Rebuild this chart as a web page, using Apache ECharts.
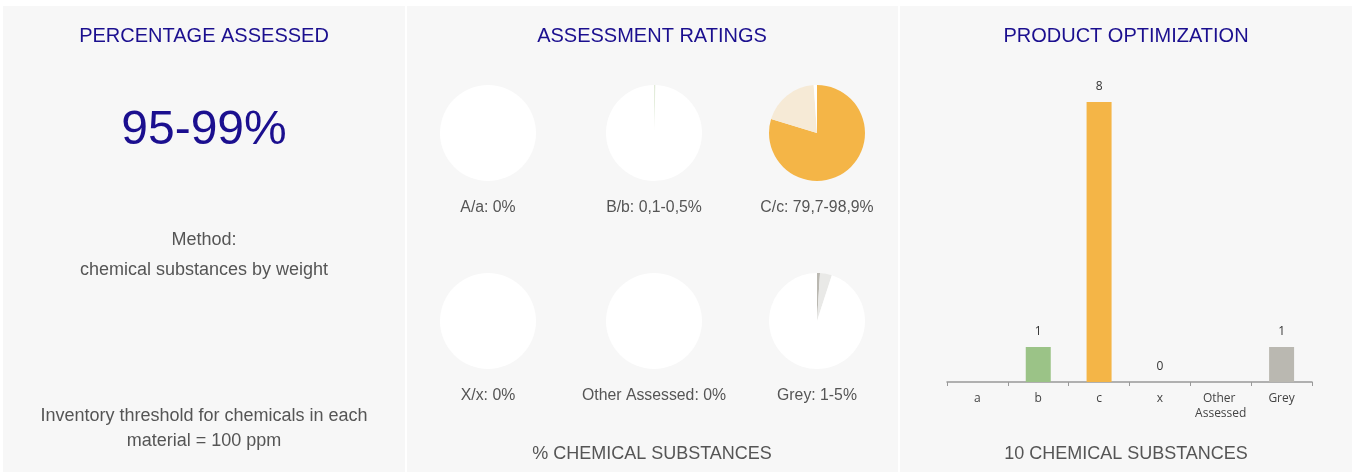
<!DOCTYPE html>
<html>
<head>
<meta charset="utf-8">
<script src="https://cdn.jsdelivr.net/npm/echarts@6/dist/echarts.min.js"></script>
<style>
	html, body { margin:0; padding:0; background:#fff; }
	#chart { width:1352px; height:472px; }
</style>
</head>
<body>
<div id="chart"></div>
<script>
//数据
var pieNames = ['A/a: 0%', 'B/b: 0,1-0,5%', 'C/c: 79,7-98,9%', 'X/x: 0%', 'Other Assessed: 0%', 'Grey: 1-5%'];
var pieValues = [
	[0, 0, 100],
	[0.1, 0.4, 99.5],
	[79.7, 19.2, 1.1],
	[0, 0, 100],
	[0, 0, 100],
	[1, 4, 95]
];
var pieColors = [
	['#f4b547', '#f6ead6', '#ffffff'],
	['#9bc387', '#e4eddb', '#ffffff'],
	['#f4b547', '#f6ead6', '#ffffff'],
	['#f4b547', '#f6ead6', '#ffffff'],
	['#f4b547', '#f6ead6', '#ffffff'],
	['#bab8b1', '#e9e9e7', '#ffffff']
];
var barCategories = ['a', 'b', 'c', 'x', 'Other Assessed', 'Grey'];
var barValues = [null, 1, 8, 0, null, 1];
var barColors = ['#f4b547', '#9bc387', '#f4b547', '#f4b547', '#f4b547', '#bab8b1'];

var navy = '#1b0f8f';
var arial = '"Liberation Sans", Arial, sans-serif';

function txt(x, y, text, size, color){
	return {
		type: 'text', x: x, y: y, z: 5,
		style: { text: text, align: 'center', verticalAlign: 'middle', fontSize: size, fontFamily: arial, fill: color }
	};
}

//饼图位置
var pieCenters = [[488, 133], [654, 133], [817, 133], [488, 321], [654, 321], [817, 321]];
var labelY = [207, 207, 207, 395, 395, 395];

var myChart = echarts.init(document.getElementById('chart'));

var graphics = [
	{ type: 'rect', z: 0, shape: { x: 3, y: 6, width: 402, height: 466 }, style: { fill: '#f7f7f7' } },
	{ type: 'rect', z: 0, shape: { x: 407, y: 6, width: 491, height: 466 }, style: { fill: '#f7f7f7' } },
	{ type: 'rect', z: 0, shape: { x: 900, y: 6, width: 452, height: 466 }, style: { fill: '#f7f7f7' } },
	txt(204, 36, 'PERCENTAGE ASSESSED', 20, navy),
	txt(652, 36, 'ASSESSMENT RATINGS', 20, navy),
	txt(1126, 36, 'PRODUCT OPTIMIZATION', 20, navy),
	txt(204, 131, '95-99%', 48, navy),
	txt(204, 240, 'Method:', 18, '#555'),
	txt(204, 270, 'chemical substances by weight', 18, '#555'),
	txt(204, 416, 'Inventory threshold for chemicals in each', 18, '#555'),
	txt(204, 441, 'material = 100 ppm', 18, '#555'),
	txt(652, 454, '% CHEMICAL SUBSTANCES', 18, '#555'),
	txt(1126, 454, '10 CHEMICAL SUBSTANCES', 18, '#555')
];

var series = [];
for(var i = 0; i < pieNames.length; i++){
	var d = [];
	for(var j = 0; j < pieValues[i].length; j++){
		d.push({ value: pieValues[i][j], itemStyle: { color: pieColors[i][j] } });
	}
	series.push({
		type: 'pie',
		name: pieNames[i],
		center: pieCenters[i],
		radius: 48,
		startAngle: 90,
		silent: true,
		label: { show: false },
		labelLine: { show: false },
		itemStyle: { borderWidth: 0 },
		data: d
	});
	graphics.push(txt(pieCenters[i][0], labelY[i] + 1, pieNames[i], 15.8, '#555'));
}

var barData = [];
for(var k = 0; k < barValues.length; k++){
	barData.push({ value: barValues[k], itemStyle: { color: barColors[k] } });
}
series.push({
	type: 'bar',
	barWidth: 25,
	silent: true,
	label: {
		show: true,
		position: 'top',
		distance: 9,
		color: '#333',
		fontSize: 12,
		fontFamily: '"Open Sans", sans-serif'
	},
	data: barData
});

var option = {
	backgroundColor: '#ffffff',
	animation: false,
	graphic: graphics,
	grid: { left: 947, right: 40, top: 102, bottom: 90 },
	xAxis: {
		type: 'category',
		data: barCategories,
		axisLine: { lineStyle: { color: '#999', width: 1.5 } },
		axisTick: { show: true, length: 4, lineStyle: { color: '#999' } },
		axisLabel: {
			interval: 0,
			margin: 9,
			color: '#444',
			fontSize: 12,
			lineHeight: 15,
			fontFamily: '"Open Sans", sans-serif',
			width: 60,
			overflow: 'break'
		}
	},
	yAxis: { type: 'value', min: 0, max: 8, show: false, splitLine: { show: false } },
	series: series
};
myChart.setOption(option);
</script>
</body>
</html>
